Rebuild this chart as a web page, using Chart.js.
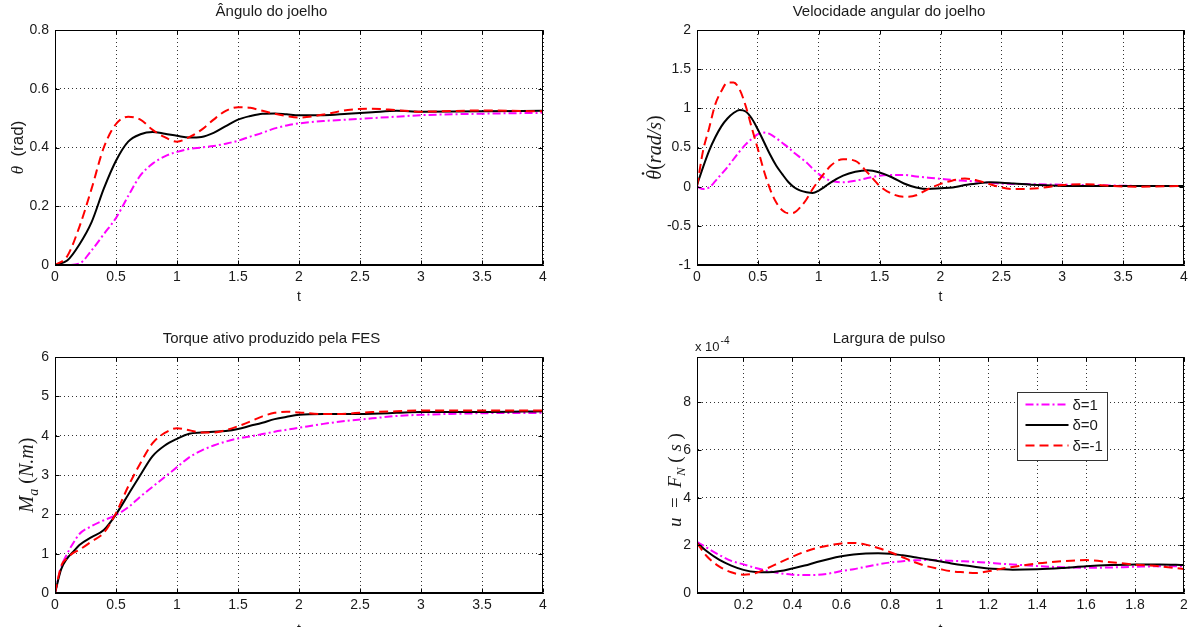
<!DOCTYPE html>
<html>
<head>
<meta charset="utf-8">
<script src="https://cdn.jsdelivr.net/npm/chart.js@4.4.1/dist/chart.umd.min.js"></script>
<style>
body{margin:0;background:#fff;overflow:hidden;width:1189px;height:627px;position:relative}
canvas{position:absolute}
</style>
</head>
<body>
<canvas id="cAng" width="594" height="313" style="left:0;top:0"></canvas>
<canvas id="cVel" width="595" height="313" style="left:594px;top:0"></canvas>
<canvas id="cTor" width="594" height="314" style="left:0;top:327px"></canvas>
<canvas id="cPw" width="595" height="314" style="left:594px;top:327px"></canvas>
<script>
var SANS = "'Liberation Sans', Arial, Helvetica, sans-serif";
var SERIF = "'Liberation Serif', 'DejaVu Serif', 'Times New Roman', serif";

var deltaLabels = ['δ=1', 'δ=0', 'δ=-1'];

// knee angle (rad)
var tAng = [0,0.1,0.2,0.3,0.4,0.5,0.6,0.7,0.8,0.9,1.0,1.1,1.2,1.3,1.4,1.5,1.6,1.7,1.8,1.9,2.0,2.2,2.4,2.6,2.8,3.0,3.5,4.0];
var angD1 = [0,0,0.005,0.05,0.105,0.16,0.235,0.305,0.345,0.37,0.385,0.395,0.4,0.405,0.413,0.423,0.437,0.45,0.465,0.475,0.482,0.49,0.495,0.5,0.505,0.51,0.515,0.518];
var angD0 = [0,0.015,0.07,0.146,0.26,0.355,0.42,0.445,0.453,0.447,0.44,0.434,0.436,0.45,0.473,0.495,0.507,0.515,0.516,0.513,0.51,0.51,0.515,0.52,0.525,0.522,0.523,0.525];
var angDm1 = [0,0.03,0.13,0.26,0.4,0.48,0.505,0.495,0.46,0.435,0.42,0.435,0.46,0.495,0.525,0.537,0.535,0.525,0.515,0.507,0.502,0.512,0.528,0.532,0.527,0.522,0.526,0.523];

// knee angular velocity (rad/s)
var tVel = [0,0.05,0.1,0.15,0.2,0.25,0.3,0.35,0.4,0.45,0.5,0.55,0.6,0.65,0.7,0.75,0.8,0.85,0.9,0.95,1.0,1.05,1.1,
  1.2,1.3,1.4,1.5,1.6,1.7,1.8,1.9,2.0,2.1,2.2,2.3,2.4,2.5,2.6,2.8,3.0,3.2,3.4,3.6,4.0];
var velD1 = [0,-0.03,-0.01,0.07,0.16,0.25,0.35,0.45,0.54,0.61,0.67,0.69,0.67,0.62,0.56,0.5,0.43,0.37,0.31,0.23,0.16,0.11,0.075,
  0.055,0.075,0.11,0.14,0.15,0.15,0.13,0.115,0.1,0.085,0.075,0.065,0.05,0.04,0.035,0.03,0.025,0.02,0.015,0.01,0.01];
var velD0 = [0.02,0.25,0.46,0.63,0.77,0.87,0.94,0.98,0.96,0.87,0.73,0.57,0.41,0.27,0.16,0.06,-0.01,-0.05,-0.07,-0.08,-0.05,0.0,0.055,
  0.14,0.19,0.21,0.18,0.12,0.04,-0.01,-0.03,-0.02,-0.01,0.02,0.04,0.055,0.05,0.04,0.02,0.01,0.01,0.01,0.01,0.01];
var velDm1 = [0,0.46,0.75,1.05,1.22,1.33,1.33,1.24,1.03,0.75,0.48,0.2,-0.03,-0.2,-0.3,-0.34,-0.33,-0.26,-0.16,-0.03,0.08,0.18,0.27,
  0.35,0.33,0.18,0.01,-0.09,-0.13,-0.11,-0.03,0.035,0.08,0.105,0.08,0.035,-0.01,-0.03,-0.02,0.02,0.03,0.01,0.0,0.01];

// active torque from FES (N.m)
var tTor = [0,0.05,0.1,0.15,0.2,0.3,0.4,0.5,0.6,0.7,0.8,0.9,1.0,1.1,1.2,1.3,1.4,1.5,1.6,1.7,1.8,1.9,2.0,2.2,2.4,2.6,2.8,3.0,3.5,4.0];
var torD1 = [0,0.65,1.0,1.27,1.5,1.7,1.85,1.98,2.18,2.45,2.7,2.95,3.2,3.45,3.62,3.75,3.85,3.93,3.98,4.04,4.1,4.15,4.2,4.3,4.38,4.44,4.5,4.53,4.57,4.58];
var torD0 = [0,0.6,0.88,1.05,1.22,1.42,1.6,2.0,2.5,3.0,3.48,3.75,3.92,4.05,4.08,4.1,4.12,4.17,4.25,4.33,4.42,4.48,4.53,4.55,4.55,4.56,4.58,4.6,4.6,4.62];
var torDm1 = [0,0.68,0.89,1.02,1.1,1.31,1.53,2.03,2.71,3.3,3.81,4.07,4.19,4.14,4.08,4.08,4.14,4.24,4.36,4.49,4.58,4.61,4.59,4.55,4.56,4.6,4.62,4.64,4.64,4.64];

// pulse width, in units of 1e-4 s
var tPw = [0.01,0.05,0.1,0.15,0.2,0.25,0.3,0.35,0.4,0.45,0.5,0.55,0.6,0.65,0.7,0.75,0.8,0.85,0.9,0.95,1.0,1.05,1.1,1.15,1.2,1.25,1.3,1.4,1.5,1.6,1.7,1.8,1.9,2.0];
var pwD1 = [2.15,1.9,1.6,1.35,1.2,1.05,0.92,0.83,0.77,0.75,0.76,0.82,0.92,1.0,1.1,1.2,1.28,1.33,1.37,1.38,1.37,1.35,1.33,1.3,1.27,1.23,1.2,1.13,1.08,1.06,1.07,1.1,1.12,1.12];
var pwD0 = [2.1,1.75,1.4,1.15,0.97,0.88,0.87,0.92,1.03,1.15,1.3,1.43,1.54,1.62,1.66,1.67,1.65,1.58,1.5,1.42,1.33,1.24,1.16,1.09,1.03,1.0,0.98,1.0,1.05,1.12,1.17,1.2,1.2,1.17];
var pwDm1 = [2.1,1.54,1.12,0.87,0.77,0.84,1.05,1.29,1.52,1.73,1.89,2.0,2.08,2.1,2.03,1.89,1.71,1.5,1.29,1.12,1.01,0.91,0.87,0.84,0.91,1.01,1.09,1.24,1.33,1.38,1.29,1.19,1.12,1.01];

var lineStyles = [
  {color: '#ff00ff', width: 2, dash: [8, 3, 2, 3], order: 2},
  {color: '#000000', width: 2, dash: [], order: 1},
  {color: '#ff0000', width: 2, dash: [9, 5], order: 0}
];

// box around the axes plus inward tick marks on all sides
var frame = {
  id: 'frame',
  afterDatasetsDraw: function (chart) {
    var ctx = chart.ctx, a = chart.chartArea, sx = chart.scales.x, sy = chart.scales.y;
    var L = Math.round(a.left) + 0.5, R = Math.round(a.right) - 0.5, T = Math.round(a.top) + 0.5, B = Math.round(a.bottom) - 0.5;
    ctx.save();
    ctx.strokeStyle = '#000';
    ctx.lineWidth = 1;
    ctx.beginPath();
    sx.ticks.forEach(function (t) {
      var p = Math.round(sx.getPixelForValue(t.value)) + 0.5;
      ctx.moveTo(p, B); ctx.lineTo(p, B - 4);
      ctx.moveTo(p, T); ctx.lineTo(p, T + 4);
    });
    sy.ticks.forEach(function (t) {
      var p = Math.round(sy.getPixelForValue(t.value)) + 0.5;
      ctx.moveTo(L, p); ctx.lineTo(L + 4, p);
      ctx.moveTo(R, p); ctx.lineTo(R - 4, p);
    });
    ctx.stroke();
    ctx.strokeRect(L, T, R - L, B - T);
    ctx.restore();
  }
};

// rotated y axis label made of pieces (italic, subscript, dot accent)
function yLabel(lab) {
  return {
    id: 'ylab',
    afterDraw: function (chart) {
      var ctx = chart.ctx, a = chart.chartArea;
      function fontOf(p) {
        return (p.it ? 'italic ' : '') + (p.sub ? Math.round(lab.size * 0.7) : lab.size) + 'px ' + (p.serif ? SERIF : SANS);
      }
      ctx.save();
      ctx.translate(lab.x, (a.top + a.bottom) / 2 + (lab.dy || 0));
      ctx.rotate(-Math.PI / 2);
      ctx.fillStyle = '#1a1a1a';
      ctx.textBaseline = 'alphabetic';
      var widths = lab.parts.map(function (p) { ctx.font = fontOf(p); return ctx.measureText(p.t).width; });
      var x = -widths.reduce(function (s, w) { return s + w; }, 0) / 2;
      lab.parts.forEach(function (p, i) {
        ctx.font = fontOf(p);
        ctx.fillText(p.t, x, lab.size * 0.35 + (p.sub ? lab.size * 0.25 : 0));
        if (p.dot) {
          ctx.beginPath();
          ctx.arc(x + widths[i] * 0.62, -lab.size * 0.55, 1.3, 0, 2 * Math.PI);
          ctx.fill();
        }
        x += widths[i];
      });
      ctx.restore();
    }
  };
}

// "x 10^-4" multiplier above the pulse width axis
var expLabel = {
  id: 'expLabel',
  afterDraw: function (chart) {
    var ctx = chart.ctx, a = chart.chartArea;
    ctx.save();
    ctx.fillStyle = '#1a1a1a';
    ctx.textBaseline = 'alphabetic';
    ctx.font = '13px ' + SANS;
    ctx.fillText('x 10', a.left - 2, a.top - 6);
    var w = ctx.measureText('x 10').width;
    ctx.font = '10px ' + SANS;
    ctx.fillText('-4', a.left - 1 + w, a.top - 13);
    ctx.restore();
  }
};

// boxed legend inside the pulse width plot
var boxLegend = {
  id: 'boxLegend',
  afterDraw: function (chart) {
    var ctx = chart.ctx, a = chart.chartArea;
    var x0 = Math.round(a.right - 167) + 0.5, y0 = Math.round(a.top + 35) + 0.5, w = 90, h = 68;
    ctx.save();
    ctx.fillStyle = '#fff';
    ctx.fillRect(x0, y0, w, h);
    ctx.strokeStyle = '#333';
    ctx.lineWidth = 1;
    ctx.strokeRect(x0, y0, w, h);
    chart.data.datasets.forEach(function (ds, i) {
      var y = y0 + 12 + i * 20.5;
      ctx.beginPath();
      ctx.setLineDash(ds.borderDash || []);
      ctx.strokeStyle = ds.borderColor;
      ctx.lineWidth = ds.borderWidth;
      ctx.moveTo(x0 + 8, y);
      ctx.lineTo(x0 + 51, y);
      ctx.stroke();
      ctx.setLineDash([]);
      ctx.fillStyle = '#1a1a1a';
      ctx.font = '15px ' + SANS;
      ctx.textBaseline = 'middle';
      ctx.fillText(ds.label, x0 + 55, y + 1);
    });
    ctx.restore();
  }
};

// ticks at every multiple of step that falls inside [min, max]
function stepTicks(s, min, max, step) {
  var out = [];
  for (var k = Math.ceil(min / step - 1e-9); k * step <= max + 1e-9; k++) {
    out.push({value: Math.round(k * step * 1e6) / 1e6});
  }
  s.ticks = out;
}

function fmt(v) {
  return String(Math.round(v * 1000) / 1000);
}

function makeChart(id, o) {
  var datasets = o.series.map(function (s, i) {
    var st = lineStyles[i];
    return {
      label: deltaLabels[i],
      data: o.t.map(function (x, k) { return {x: x, y: s[k]}; }),
      borderColor: st.color,
      borderWidth: st.width,
      borderDash: st.dash,
      order: st.order,
      pointRadius: 0,
      fill: false,
      cubicInterpolationMode: 'monotone'
    };
  });
  var tickFont = {family: SANS, size: 14};
  return new Chart(document.getElementById(id), {
    type: 'line',
    data: {datasets: datasets},
    options: {
      responsive: false,
      animation: false,
      events: [],
      layout: {padding: {left: 0, right: o.padRight, top: 0, bottom: 0}},
      plugins: {
        legend: {display: false},
        tooltip: {enabled: false},
        title: {
          display: true, text: o.title, color: '#1a1a1a',
          font: {family: SANS, size: 15, weight: 'normal'},
          padding: {top: 3, bottom: 9}
        }
      },
      scales: {
        x: {
          type: 'linear', min: o.xMin, max: o.xMax,
          ticks: {color: '#1a1a1a', font: tickFont, padding: 4, maxRotation: 0, autoSkip: false, callback: fmt},
          grid: {color: '#333', drawTicks: false},
          border: {color: '#000', dash: [1, 3]},
          title: {display: true, text: 't', color: '#1a1a1a', font: tickFont, padding: {top: 0, bottom: o.tPad}},
          afterBuildTicks: function (s) { stepTicks(s, o.xMin, o.xMax, o.xStep); },
          afterFit: function (s) { s.height = 48; s.paddingLeft = 0; s.paddingRight = 0; }
        },
        y: {
          type: 'linear', min: o.yMin, max: o.yMax,
          ticks: {color: '#1a1a1a', font: tickFont, padding: 6, autoSkip: false, callback: fmt},
          grid: {color: '#333', drawTicks: false},
          border: {color: '#000', dash: [1, 3]},
          afterBuildTicks: function (s) { stepTicks(s, o.yMin, o.yMax, o.yStep); },
          afterFit: function (s) { s.width = o.yAxisW; s.paddingTop = 0; s.paddingBottom = 0; }
        }
      }
    },
    plugins: [frame, yLabel(o.ylab)].concat(o.extra || [])
  });
}

makeChart('cAng', {
  title: 'Ângulo do joelho', t: tAng, series: [angD1, angD0, angDm1],
  xMin: 0, xMax: 4, xStep: 0.5, yMin: 0, yMax: 0.8, yStep: 0.2,
  yAxisW: 55, padRight: 51, tPad: 7,
  ylab: {x: 17, size: 17, parts: [{t: 'θ', it: true, serif: true}, {t: '  (rad)'}]}
});

makeChart('cVel', {
  title: 'Velocidade angular do joelho', t: tVel, series: [velD1, velD0, velDm1],
  xMin: 0, xMax: 4, xStep: 0.5, yMin: -1, yMax: 2, yStep: 0.5,
  yAxisW: 103, padRight: 5, tPad: 7,
  ylab: {x: 60, size: 20, parts: [
    {t: 'θ', it: true, serif: true, dot: true}, {t: '(', serif: true},
    {t: 'rad/s', it: true, serif: true}, {t: ')', serif: true}]}
});

makeChart('cTor', {
  title: 'Torque ativo produzido pela FES', t: tTor, series: [torD1, torD0, torDm1],
  xMin: 0, xMax: 4, xStep: 0.5, yMin: 0, yMax: 6, yStep: 1,
  yAxisW: 55, padRight: 51, tPad: 2,
  ylab: {x: 26, size: 20, parts: [
    {t: 'M', it: true, serif: true}, {t: 'a', it: true, serif: true, sub: true},
    {t: ' (', serif: true}, {t: 'N.m', it: true, serif: true}, {t: ')', serif: true}]}
});

makeChart('cPw', {
  title: 'Largura de pulso', t: tPw, series: [pwD1, pwD0, pwDm1],
  xMin: 0.01, xMax: 2, xStep: 0.2, yMin: 0, yMax: 9.9, yStep: 2,
  yAxisW: 103, padRight: 5, tPad: 2,
  ylab: {x: 80, size: 19, dy: 5, parts: [
    {t: 'u', it: true, serif: true}, {t: '  =  ', serif: true},
    {t: 'F', it: true, serif: true}, {t: 'N', it: true, serif: true, sub: true},
    {t: ' ( ', serif: true}, {t: 's', it: true, serif: true}, {t: ' )', serif: true}]},
  extra: [expLabel, boxLegend]
});
</script>
</body>
</html>
